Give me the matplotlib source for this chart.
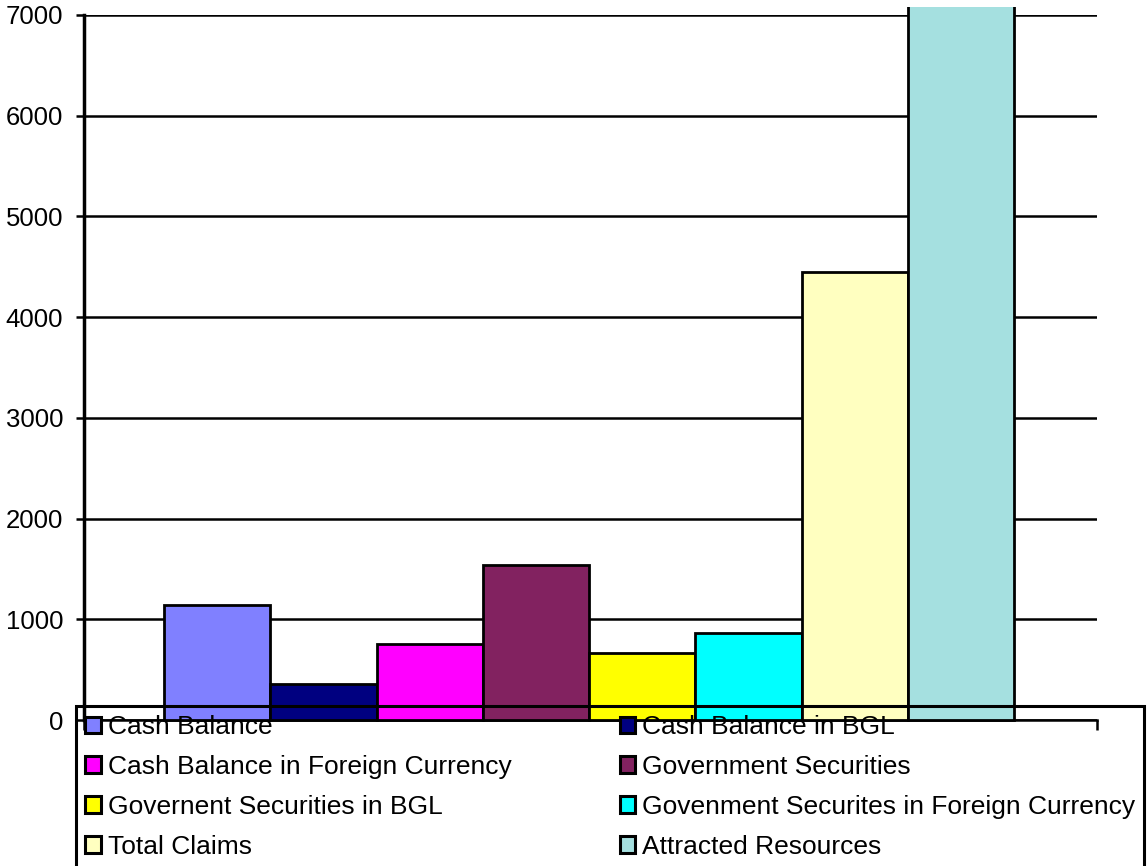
import matplotlib
matplotlib.use("Agg")
import matplotlib.pyplot as plt
from matplotlib.patches import Patch
from matplotlib.transforms import Bbox

plt.rcParams["font.family"] = ["Liberation Sans", "DejaVu Sans"]

labels = [
    "Cash Balance",
    "Cash Balance in BGL",
    "Cash Balance in Foreign Currency",
    "Government Securities",
    "Governent Securities in BGL",
    "Govenment Securites in Foreign Currency",
    "Total Claims",
    "Attracted Resources",
]
values = [1142, 357, 755, 1539, 665, 864, 4449, 8000]
colors = ["#8080FF", "#000080", "#FF00FF", "#822260",
          "#FFFF00", "#00FFFF", "#FFFFC0", "#A5E0E0"]
yticks = [0, 1000, 2000, 3000, 4000, 5000, 6000, 7000]

W, H = 1147, 866
fig = plt.figure(figsize=(W / 100, H / 100), dpi=100)
ax = fig.add_axes([84 / W, 1 - 720 / H, (1097 - 84) / W, (720 - 15) / H])

x = list(range(len(values)))
bars = ax.bar(x, values, width=1.0, color=colors, edgecolor="black",
              linewidth=2.0, zorder=3)
# the last bar runs past the top of the value axis
clip = Bbox([[0, 0], [W, H - 7]])
for b in bars:
    b.set_clip_on(True)
    b.set_clip_box(clip)
    b.set_clip_path(None)

ax.set_ylim(0, 7000)
ax.set_xlim(-0.5 - 0.755, 7.5 + 0.78)
ax.set_yticks(yticks)
ax.set_yticklabels([str(t) for t in yticks], fontsize=18.5)
ax.set_xticks(ax.get_xlim())
ax.set_xticklabels([])
ax.tick_params(axis="y", length=6, width=1.8, pad=9)
ax.tick_params(axis="x", length=7, width=1.8, direction="out")
ax.yaxis.grid(True, color="black", linewidth=1.8, zorder=1)
ax.set_axisbelow(True)

for s in ["top", "right"]:
    ax.spines[s].set_visible(False)
ax.spines["left"].set_linewidth(2.5)
ax.spines["bottom"].set_linewidth(1.8)
ax.spines["left"].set_zorder(4)

handles = [Patch(facecolor=c, edgecolor="black", linewidth=2.2) for c in colors]
order = [0, 2, 4, 6, 1, 3, 5, 7]
leg = fig.legend([handles[i] for i in order], [labels[i] for i in order],
                 ncol=2, loc="upper left",
                 bbox_to_anchor=(76 / W, 1 - 706 / H), borderaxespad=0,
                 fontsize=19, frameon=True, fancybox=False,
                 edgecolor="black", facecolor="none", framealpha=1,
                 handlelength=0.6, handleheight=0.6, handletextpad=0.25,
                 columnspacing=4.1, labelspacing=0.6, borderpad=0.35)
leg.get_frame().set_linewidth(2.2)
leg.set_zorder(10)

fig.savefig("out.png", dpi=100)
